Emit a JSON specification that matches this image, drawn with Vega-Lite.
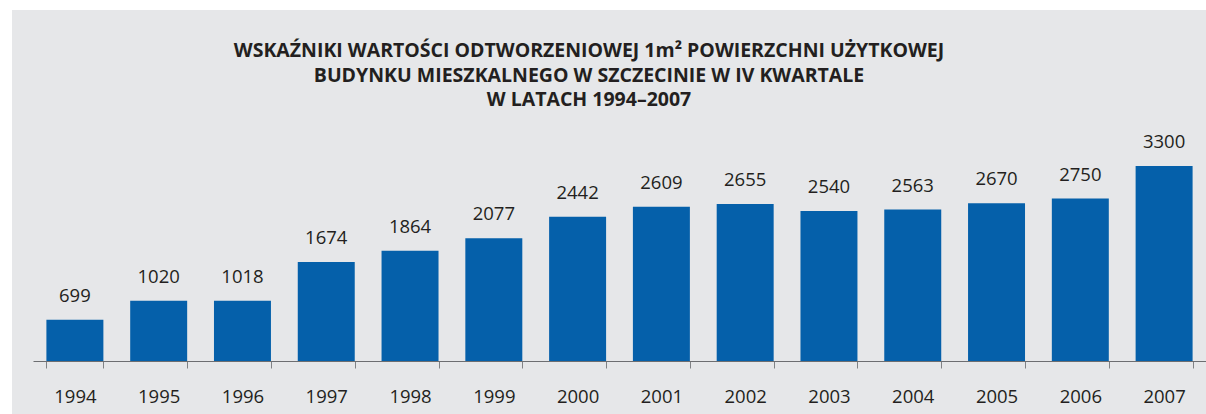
{
  "$schema": "https://vega.github.io/schema/vega-lite/v6.json",
  "autosize": "none",
  "width": 1194,
  "height": 404,
  "padding": {"left": 12, "top": 10, "right": 0, "bottom": 0},
  "background": "#ffffff",
  "config": {
    "view": {"fill": "#e6e7e9", "stroke": null},
    "font": "Open Sans"
  },
  "title": {
    "text": ["WSKAŹNIKI WARTOŚCI ODTWORZENIOWEJ 1m² POWIERZCHNI UŻYTKOWEJ", "BUDYNKU MIESZKALNEGO W SZCZECINIE W IV KWARTALE", "W LATACH 1994–2007"],
    "anchor": "middle",
    "frame": "group",
    "baseline": "alphabetic",
    "offset": -116,
    "dx": -20,
    "fontSize": 19.5,
    "fontWeight": "bold",
    "font": "Open Sans",
    "color": "#231f20",
    "lineHeight": 24.7
  },
  "data": {
    "values": [
      {"year": "1994", "value": 699},
      {"year": "1995", "value": 1020},
      {"year": "1996", "value": 1018},
      {"year": "1997", "value": 1674},
      {"year": "1998", "value": 1864},
      {"year": "1999", "value": 2077},
      {"year": "2000", "value": 2442},
      {"year": "2001", "value": 2609},
      {"year": "2002", "value": 2655},
      {"year": "2003", "value": 2540},
      {"year": "2004", "value": 2563},
      {"year": "2005", "value": 2670},
      {"year": "2006", "value": 2750},
      {"year": "2007", "value": 3300}
    ]
  },
  "encoding": {
    "x": {
      "field": "year",
      "type": "ordinal",
      "scale": {"range": [21, 1194], "paddingInner": 0.32, "paddingOuter": 0.16},
      "axis": {
        "title": null,
        "labelAngle": 0,
        "offset": -53,
        "tickBand": "extent",
        "tickSize": 7,
        "tickColor": "#808285",
        "tickWidth": 1,
        "domainColor": "#6d6e71",
        "domainWidth": 1,
        "labelFontSize": 18.5,
        "labelFont": "Open Sans",
        "labelColor": "#231f20",
        "labelBaseline": "alphabetic",
        "labelPadding": 34
      }
    },
    "y": {
      "field": "value",
      "type": "quantitative",
      "scale": {"domain": [0, 3300], "range": [351, 156], "nice": false, "zero": true},
      "axis": null
    }
  },
  "layer": [
    {"mark": {"type": "bar", "color": "#0560aa"}},
    {
      "mark": {"type": "text", "baseline": "alphabetic", "dy": -18, "fontSize": 18.5, "font": "Open Sans", "color": "#231f20"},
      "encoding": {"text": {"field": "value", "type": "quantitative", "format": "d"}}
    }
  ]
}
